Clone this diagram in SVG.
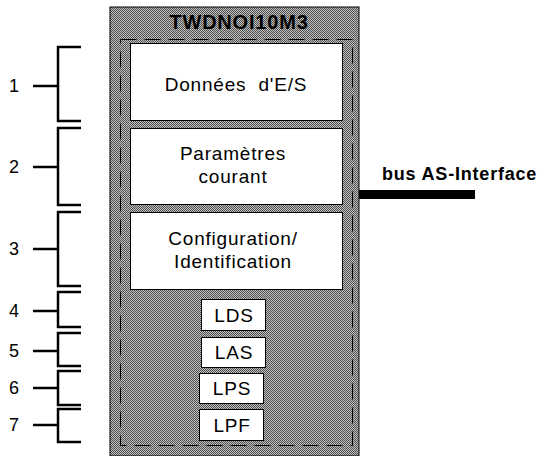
<svg xmlns="http://www.w3.org/2000/svg" width="546" height="456" viewBox="0 0 546 456">
<style>
text{font-family:"Liberation Sans",Arial,sans-serif;fill:#000}
.lbl{font-size:19px;letter-spacing:0.8px;text-anchor:middle}
.num{font-size:18px;text-anchor:middle}
.box{fill:#fff;stroke:#000;stroke-width:1}
.br{fill:none;stroke:#000;stroke-width:2.5}
</style>
<defs>
<pattern id="dith" width="2" height="2" patternUnits="userSpaceOnUse">
<rect width="2" height="2" fill="#c0c0c0"/>
<rect width="1" height="1" fill="#505050"/>
<rect x="1" y="1" width="1" height="1" fill="#505050"/>
</pattern>
</defs>
<g id="module">
<rect x="110" y="7" width="249" height="449" fill="url(#dith)" stroke="#000" stroke-width="1"/>
<text x="239" y="29" style="font-size:20px;font-weight:bold;letter-spacing:0.8px;text-anchor:middle">TWDNOI10M3</text>
<rect x="120.5" y="39.5" width="232" height="406" fill="none" stroke="#000" stroke-width="1" stroke-dasharray="16 8"/>
</g>
<g id="n1"><rect class="box" x="130.5" y="43.5" width="212" height="77"/><text class="lbl" x="236" y="91" xml:space="preserve">Données  d'E/S</text></g>
<g id="n2"><rect class="box" x="130.5" y="128.5" width="212" height="76"/><text class="lbl" x="233" y="160">Paramètres</text><text class="lbl" x="233" y="183">courant</text></g>
<g id="n3"><rect class="box" x="130.5" y="212.5" width="212" height="77"/><text class="lbl" x="233" y="245">Configuration/</text><text class="lbl" x="233" y="268">Identification</text></g>
<g id="n4"><rect class="box" x="201.5" y="299.5" width="64" height="31"/><text class="lbl" x="234" y="322">LDS</text></g>
<g id="n5"><rect class="box" x="201.5" y="337.5" width="64" height="30"/><text class="lbl" x="234" y="359">LAS</text></g>
<g id="n6"><rect class="box" x="199.5" y="373.5" width="64" height="30"/><text class="lbl" x="232" y="395">LPS</text></g>
<g id="n7"><rect class="box" x="199.5" y="409.5" width="64" height="31"/><text class="lbl" x="232" y="432">LPF</text></g>
<g id="bus">
<rect x="359" y="190" width="116" height="9" fill="#000"/>
<text x="382" y="180" style="font-size:18px;font-weight:bold;letter-spacing:0.8px">bus AS-Interface</text>
</g>
<g id="connectors">
<path class="br" d="M81 47H58V121H81M33 86H58"/>
<path class="br" d="M81 128H58V205H81M33 167H58"/>
<path class="br" d="M81 212H58V286H81M33 249H58"/>
<path class="br" d="M81 292H58V327H81M33 311H58"/>
<path class="br" d="M81 333H58V366H81M33 351H58"/>
<path class="br" d="M81 371H58V405H81M33 388H58"/>
<path class="br" d="M81 409H58V442H81M33 425H58"/>
</g>
<g id="numbers">
<text class="num" x="14" y="92">1</text>
<text class="num" x="14" y="173">2</text>
<text class="num" x="14" y="255">3</text>
<text class="num" x="14" y="317">4</text>
<text class="num" x="14" y="357">5</text>
<text class="num" x="14" y="394">6</text>
<text class="num" x="14" y="431">7</text>
</g>
</svg>
